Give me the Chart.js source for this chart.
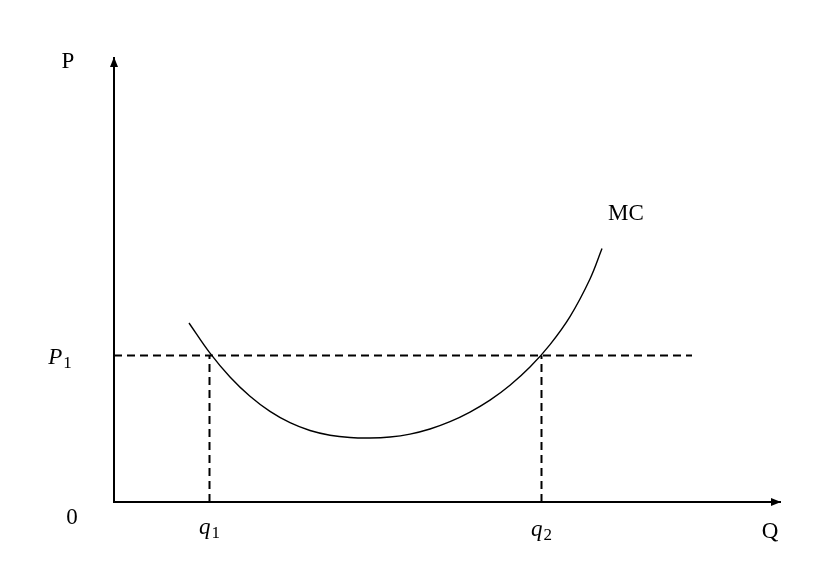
<!DOCTYPE html>
<html lang="en">
<head>
<meta charset="UTF-8">
<title>MC curve</title>
<style>
  * { margin: 0; padding: 0; }
  body { background: #fff; }
  .chartBox { width: 828px; height: 582px; }
</style>
</head>
<body>
<div class="chartBox">
  <canvas id="myChart"></canvas>
</div>
<script src="https://cdn.jsdelivr.net/npm/chart.js"></script>
<script>
  // quantity / price points of the MC curve
  const mcQ = [7.5, 9.6, 11.6, 13.6, 15.6, 17.6, 19.6, 21.6, 23.6, 25.6,
               27.6, 29.6, 31.6, 33.6, 35.6, 37.6, 39.6, 41.6, 43.6, 45.6, 47.6, 48.8];
  const mcP = [17.9, 14.88, 12.5, 10.57, 9.06, 7.93, 7.15, 6.68, 6.45, 6.4,
               6.5, 6.79, 7.3, 8.03, 8.99, 10.18, 11.67, 13.49, 15.74, 18.54, 22.3, 25.34];

  const p1 = 14.65;             // price level P1
  const qMarks = [9.55, 42.75]; // q1, q2
  const dashEndQ = 57.8;        // where the P1 line stops
  const axisMaxQ = 66.7;
  const axisMaxP = 44.5;

  const serif = '"Liberation Serif", "Times New Roman", serif';

  // text labels: [text, subscript, x, y, italic]
  const labels = [
    ['P', '', -4.6, 44.0, false],
    ['0', '', -4.2, -1.6, false],
    ['Q', '', 65.6, -3.0, false],
    ['MC', '', 51.2, 28.8, false],
    ['P', '1', -5.4, 14.4, true],
    ['q', '1', qMarks[0], -2.6, true],
    ['q', '2', qMarks[1], -2.8, true]
  ];

  // arrowheads + labels
  const annotate = {
    id: 'annotate',
    afterDatasetsDraw(chart) {
      const ctx = chart.ctx;
      const xs = chart.scales.x, ys = chart.scales.y;
      ctx.save();
      ctx.fillStyle = '#000';
      // y axis arrow
      let tx = xs.getPixelForValue(0), ty = ys.getPixelForValue(axisMaxP);
      ctx.beginPath();
      ctx.moveTo(tx, ty);
      ctx.lineTo(tx - 4, ty + 10);
      ctx.lineTo(tx + 4, ty + 10);
      ctx.closePath();
      ctx.fill();
      // x axis arrow
      tx = xs.getPixelForValue(axisMaxQ); ty = ys.getPixelForValue(0);
      ctx.beginPath();
      ctx.moveTo(tx, ty);
      ctx.lineTo(tx - 10, ty - 4);
      ctx.lineTo(tx - 10, ty + 4);
      ctx.closePath();
      ctx.fill();

      ctx.textBaseline = 'middle';
      ctx.textAlign = 'left';
      labels.forEach(function (l) {
        const px = xs.getPixelForValue(l[2]);
        const py = ys.getPixelForValue(l[3]);
        const mainFont = (l[4] ? 'italic ' : '') + '23px ' + serif;
        const subFont = '17px ' + serif;
        ctx.font = mainFont;
        const w1 = ctx.measureText(l[0]).width;
        ctx.font = subFont;
        const w2 = l[1] ? ctx.measureText(l[1]).width + 1 : 0;
        const x0 = px - (w1 + w2) / 2;
        ctx.font = mainFont;
        ctx.fillText(l[0], x0, py);
        if (l[1]) {
          ctx.font = subFont;
          ctx.fillText(l[1], x0 + w1 + 1, py + 6);
        }
      });
      ctx.restore();
    }
  };

  const mcData = mcQ.map((q, i) => ({ x: q, y: mcP[i] }));
  const dashed = { borderColor: '#000', borderWidth: 2, borderDash: [8, 5], pointRadius: 0, showLine: true, tension: 0 };

  const data = {
    datasets: [
      { data: [{ x: 0, y: axisMaxP }, { x: 0, y: 0 }, { x: axisMaxQ, y: 0 }],
        borderColor: '#000', borderWidth: 2, pointRadius: 0, showLine: true, tension: 0 },
      { data: mcData, borderColor: '#000', borderWidth: 1.4, pointRadius: 0, showLine: true, tension: 0.4 },
      Object.assign({ data: [{ x: 0, y: p1 }, { x: dashEndQ, y: p1 }] }, dashed),
      Object.assign({ data: [{ x: qMarks[0], y: 0 }, { x: qMarks[0], y: p1 }] }, dashed),
      Object.assign({ data: [{ x: qMarks[1], y: 0 }, { x: qMarks[1], y: p1 }] }, dashed)
    ]
  };

  const config = {
    type: 'scatter',
    data,
    options: {
      responsive: true,
      maintainAspectRatio: false,
      animation: false,
      layout: { padding: 0 },
      plugins: { legend: { display: false }, tooltip: { enabled: false } },
      scales: {
        x: { type: 'linear', display: false, min: -11.4, max: 71.4 },
        y: { type: 'linear', display: false, min: -8.0, max: 50.2 }
      }
    },
    plugins: [annotate]
  };

  const myChart = new Chart(document.getElementById('myChart'), config);
</script>
</body>
</html>
